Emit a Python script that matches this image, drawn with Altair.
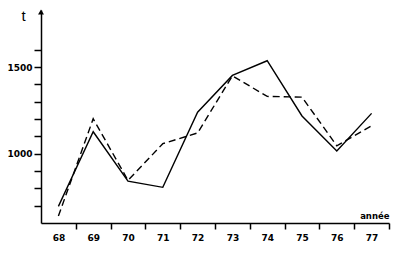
import altair as alt
import pandas as pd

years = [68, 69, 70, 71, 72, 73, 74, 75, 76, 77]
solid = [696, 1127, 842, 806, 1240, 1452, 1537, 1218, 1016, 1233]
dashed = [640, 1202, 846, 1058, 1120, 1450, 1331, 1327, 1046, 1161]
y_ticks = [700, 800, 900, 1000, 1100, 1200, 1300, 1400, 1500, 1600]
x_ticks = [68.5, 69.5, 70.5, 71.5, 72.5, 73.5, 74.5, 75.5, 76.5, 77.5]
x_min, x_max = 67.5, 77.5
y_min, y_max = 600, 1830

df = pd.DataFrame({
    "year": years * 2,
    "value": solid + dashed,
    "series": ["solid"] * len(years) + ["dashed"] * len(years),
})
arrow_df = pd.DataFrame({"year": [x_min], "value": [y_max]})

xscale = alt.Scale(domain=[x_min, x_max], nice=False, zero=False)
yscale = alt.Scale(domain=[y_min, y_max], nice=False, zero=False)

x_axis = alt.Axis(
    values=x_ticks, labelExpr="floor(datum.value)", labelOffset=-17.4,
    labelOverlap=False, labelFlush=False,
    tickSize=6, tickWidth=1.5, tickColor="black", domainColor="black", domainWidth=1.5,
    labelFont="DejaVu Sans", labelFontSize=9, labelFontWeight="bold", labelColor="black",
    labelPadding=4, grid=False,
    title="année", titleX=348, titleY=-3, titleAlign="right", titleBaseline="bottom",
    titleFont="DejaVu Sans", titleFontSize=8.5, titleFontWeight="bold", titleColor="black",
)
y_axis = alt.Axis(
    values=y_ticks,
    labelExpr="(datum.value == 1000 || datum.value == 1500) ? datum.label : ''",
    format="d", labelOverlap=False, labelFlush=False,
    tickSize=7, tickWidth=1.5, tickColor="black", domainColor="black", domainWidth=1.5,
    labelFont="DejaVu Sans", labelFontSize=9, labelFontWeight="bold", labelColor="black",
    labelPadding=2, grid=False,
    title="t", titleAngle=0, titleX=-18, titleY=13, titleAlign="center", titleBaseline="bottom",
    titleFont="Liberation Sans", titleFontSize=15, titleFontWeight="normal", titleColor="black",
)

x_enc = alt.X("year:Q", scale=xscale, axis=x_axis)
y_enc = alt.Y("value:Q", scale=yscale, axis=y_axis)

solid_line = alt.Chart(df).transform_filter(alt.datum.series == "solid").mark_line(
    color="black", strokeWidth=1.4
).encode(x=x_enc, y=y_enc)
dashed_line = alt.Chart(df).transform_filter(alt.datum.series == "dashed").mark_line(
    color="black", strokeWidth=1.4, strokeDash=[7, 4]
).encode(x=x_enc, y=y_enc)
arrow = alt.Chart(arrow_df).mark_point(
    shape="triangle-up", filled=True, color="black", size=35, opacity=1, yOffset=2
).encode(x=x_enc, y=y_enc)

chart = alt.layer(solid_line, dashed_line, arrow).properties(
    width=348, height=213,
    autosize=alt.AutoSizeParams(type="none"),
    padding={"left": 41, "top": 10, "right": 11, "bottom": 32},
    background="white",
).configure_view(stroke=None)

chart.save("out.html", embed_options={"renderer": "svg", "actions": False})
